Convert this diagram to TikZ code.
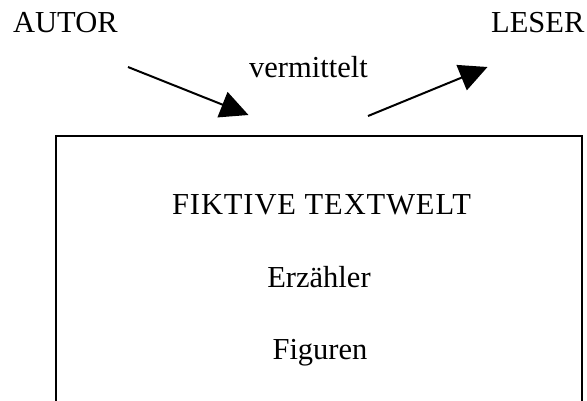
\documentclass[tikz,border=0pt]{standalone}
\usepackage{fontspec}
\setmainfont{Liberation Serif}
\usetikzlibrary{arrows.meta}
\begin{document}
\begin{tikzpicture}[x=1pt,y=-1pt,
  lbl/.style={anchor=base west,inner sep=0pt,font=\fontsize{30.5}{36}\selectfont},
  ctr/.style={anchor=base,inner sep=0pt,font=\fontsize{30.5}{36}\selectfont},
  bigarrow/.style={line width=2pt,-{Triangle[length=28pt,width=27pt]}},
  frame/.style={line width=2pt}]
\useasboundingbox (0,0) rectangle (587,400);
\clip (0,0) rectangle (587,400);
% upper labels
\node[lbl] (autor) at (13,32) {AUTOR};
\node[lbl] (leser) at (491,32) {LESER};
\node[lbl] (verm) at (249,77) {vermittelt};
% arrows from author into the text world and out to the reader
\coordinate (a1) at (128,67);
\coordinate (a2) at (248.5,115);
\coordinate (b1) at (368,116);
\coordinate (b2) at (487.5,67);
\draw[bigarrow] (a1) -- (a2);
\draw[bigarrow] (b1) -- (b2);
% frame of the fictional world
\draw[frame] (56,430) -- (56,136) -- (582,136) -- (582,430);
\node[ctr] (welt) at (321.5,214) {\addfontfeature{LetterSpace=3}FIKTIVE TEXTWELT};
\node[ctr] (erz) at (319,287) {Erzähler};
\node[ctr] (fig) at (320,359) {Figuren};
\end{tikzpicture}
\end{document}
